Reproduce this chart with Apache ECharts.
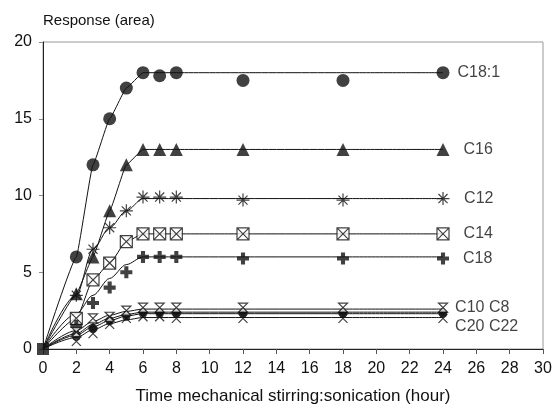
<!DOCTYPE html>
<html>
<head>
<meta charset="utf-8">
<title>Response vs time</title>
<script src="https://cdn.jsdelivr.net/npm/echarts/dist/echarts.min.js"></script>
<style>
  html, body { margin: 0; padding: 0; background: #fff; }
  #chart { width: 557px; height: 410px; }
</style>
</head>
<body>
<div id="chart"></div>
<script>
  // 测量时间 (hour)
  var hours = [0, 2, 3, 4, 5, 6, 7, 8, 12, 18, 24]
  // 各组分的响应 (area)
  var c181 = [0, 6, 12, 15, 17, 18, 17.8, 18, 17.5, 17.5, 18]
  var c16  = [0, 3.6, 6, 9, 12, 13, 13, 13, 13, 13, 13]
  var c12  = [0, 3.5, 6.5, 7.9, 9, 9.9, 9.9, 9.9, 9.7, 9.7, 9.8]
  var c14  = [0, 2, 4.5, 5.6, 7, 7.5, 7.5, 7.5, 7.5, 7.5, 7.5]
  var c18  = [0, 1.5, 3, 4, 5, 6, 6, 6, 5.9, 5.9, 5.9]
  var c10  = [0, 1.1, 2.0, 2.1, 2.5, 2.7, 2.7, 2.7, 2.7, 2.7, 2.7]
  var c8   = [0, 1.0, 1.4, 1.9, 2.2, 2.4, 2.4, 2.4, 2.4, 2.4, 2.4]
  var c20  = [0, 0.8, 1.3, 1.8, 2.1, 2.3, 2.3, 2.3, 2.3, 2.3, 2.3]
  var c22  = [0, 0.5, 1.0, 1.6, 2.0, 2.1, 2.1, 2.0, 2.0, 2.0, 2.0]

  // 拟合曲线
  var fitHours = [0, 2, 3, 4, 5, 6, 8, 12, 18, 24]
  var fit181 = [0, 6, 12, 15, 17, 18, 18, 18, 18, 18]
  var fit16  = [0, 3.6, 6, 9, 12, 13, 13, 13, 13, 13]
  var fit12  = [0, 3.5, 6.5, 7.9, 9, 9.8, 9.8, 9.8, 9.8, 9.8]
  var fit14  = [0, 2, 4.5, 5.6, 7, 7.5, 7.5, 7.5, 7.5, 7.5]
  var fit18  = [0, 2.3, 3.5, 4.6, 5.5, 6, 6, 6, 6, 6]
  var fit10  = [0, 1.2, 1.8, 2.2, 2.45, 2.6, 2.6, 2.6, 2.6, 2.6]
  var fit8   = [0, 1.0, 1.6, 2.0, 2.25, 2.4, 2.4, 2.4, 2.4, 2.4]
  var fit20  = [0, 0.9, 1.45, 1.85, 2.15, 2.3, 2.3, 2.3, 2.3, 2.3]
  var fit22  = [0, 0.75, 1.25, 1.65, 1.9, 2.05, 2.05, 2.05, 2.05, 2.05]

  // 坐标轴刻度
  var xTicks = [0, 2, 4, 6, 8, 10, 12, 14, 16, 18, 20, 22, 24, 26, 28, 30]
  var yTicks = [0, 5, 10, 15, 20]

  var FONT = '"Liberation Sans", Arial, Helvetica, sans-serif'

  // 自定义标记
  var SYM_STAR = 'path://M5,0L5,10M0,5L10,5M1.5,1.5L8.5,8.5M1.5,8.5L8.5,1.5'
  var SYM_BOXX = 'path://M0,0H10V10H0ZM0,0L10,10M10,0L0,10'
  var SYM_PLUS = 'path://M3.3,0H6.7V3.3H10V6.7H6.7V10H3.3V6.7H0V3.3H3.3Z'
  var SYM_HOUR = 'path://M0,0H10L0,10H10Z'
  var SYM_X    = 'path://M0,0L10,10M10,0L0,10'

  function fitLine(name, vals, smooth) {
    return {
      name: name + ' fit',
      type: 'line',
      smooth: smooth,
      smoothMonotone: 'x',
      showSymbol: false,
      silent: true,
      z: 2,
      lineStyle: { color: '#111', width: 1 },
      data: fitHours.map(function (h, i) { return [h, vals[i]] })
    }
  }

  function marks(name, vals, symbol, size, itemStyle, label) {
    var data = []
    for (var i = 1; i < hours.length; i++) {
      data.push({ value: [hours[i], vals[i]] })
    }
    if (label) {
      data[data.length - 1].label = Object.assign({
        show: true,
        position: 'right',
        formatter: name,
        color: '#111',
        fontSize: 16,
        fontFamily: FONT
      }, label)
    }
    return {
      name: name,
      type: 'scatter',
      symbol: symbol,
      symbolSize: size,
      z: 3,
      itemStyle: itemStyle,
      data: data
    }
  }

  var black = { color: '#111' }
  var outline = { color: '#fff', borderColor: '#111', borderWidth: 1.2 }
  var strokeOnly = { color: '#111', borderColor: '#111', borderWidth: 1.2 }

  var chart = echarts.init(document.getElementById('chart'))
  chart.setOption({
    animation: false,
    grid: {
      left: 43, right: 14, top: 42, bottom: 61,
      show: true,
      borderColor: '#999',
      borderWidth: 1
    },
    //  ------  X轴 ------
    xAxis: {
      type: 'value',
      min: xTicks[0],
      max: xTicks[xTicks.length - 1],
      interval: 2,
      name: 'Time mechanical stirring:sonication (hour)',
      nameLocation: 'middle',
      nameGap: 39,
      nameTextStyle: { color: '#111', fontSize: 17, fontFamily: FONT },
      axisLine: { lineStyle: { color: '#222', width: 1 } },
      axisTick: { show: true, length: 5, lineStyle: { color: '#555' } },
      axisLabel: { color: '#111', fontSize: 16, fontFamily: FONT, margin: 12 },
      splitLine: { show: false }
    },
    //   ------   y轴  ----------
    yAxis: {
      type: 'value',
      min: yTicks[0],
      max: yTicks[yTicks.length - 1],
      interval: 5,
      name: 'Response (area)',
      nameLocation: 'end',
      nameGap: 14,
      nameTextStyle: { color: '#111', fontSize: 15, fontFamily: FONT, align: 'left' },
      axisLine: { show: true, lineStyle: { color: '#222', width: 1 } },
      axisTick: { show: true, length: 4, lineStyle: { color: '#888' } },
      axisLabel: { color: '#111', fontSize: 16, fontFamily: FONT, margin: 11 },
      splitLine: { show: false }
    },
    series: [
      fitLine('C18:1', fit181, 0.1),
      fitLine('C16', fit16, 0.1),
      fitLine('C12', fit12, 0.3),
      fitLine('C14', fit14, 0.2),
      fitLine('C18', fit18, 0.3),
      fitLine('C10', fit10, 0.3),
      fitLine('C8', fit8, 0.3),
      fitLine('C20', fit20, 0.3),
      fitLine('C22', fit22, 0.3),
      marks('C18:1', c181, 'circle', 13, black, { distance: 8 }),
      marks('C16', c16, 'triangle', 13, black, { distance: 14 }),
      marks('C12', c12, SYM_STAR, 13, strokeOnly, { distance: 14 }),
      marks('C14', c14, SYM_BOXX, 12, outline, { distance: 14 }),
      marks('C18', c18, SYM_PLUS, 12, black, { distance: 14 }),
      marks('C22', c22, SYM_X, 9, strokeOnly, { formatter: 'C20 C22', distance: 7, offset: [0, 8] }),
      marks('C20', c20, 'circle', 8, black),
      marks('C8', c8, 'diamond', 10, black),
      marks('C10', c10, SYM_HOUR, 9, outline, { formatter: 'C10 C8', distance: 7 }),
      {
        name: 'origin',
        type: 'scatter',
        symbol: 'rect',
        symbolSize: 12,
        z: 4,
        itemStyle: black,
        data: [[hours[0], c181[0]]]
      }
    ]
  })
</script>
</body>
</html>
